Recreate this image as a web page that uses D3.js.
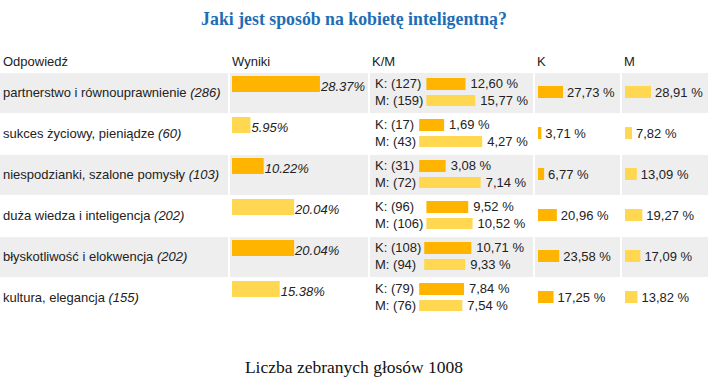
<!DOCTYPE html>
<html>
<head>
<meta charset="utf-8">
<script src="https://cdn.jsdelivr.net/npm/d3@7"></script>
<style>
  html, body { margin: 0; padding: 0; background: #fff; }
  svg { display: block; }
</style>
</head>
<body>
<svg id="chart" width="708" height="388"></svg>
<script>
// ---- data ----
const title = "Jaki jest sposób na kobietę inteligentną?";
const footer = "Liczba zebranych głosów 1008";
const headers = ["Odpowiedź", "Wyniki", "K/M", "K", "M"];
const answers = [
  "partnerstwo i równouprawnienie",
  "sukces życiowy, pieniądze",
  "niespodzianki, szalone pomysły",
  "duża wiedza i inteligencja",
  "błyskotliwość i elokwencja",
  "kultura, elegancja"
];
const counts = [286, 60, 103, 202, 202, 155];
const wyniki = ["28.37", "5.95", "10.22", "20.04", "20.04", "15.38"];
const kCounts = [127, 17, 31, 96, 108, 79];
const mCounts = [159, 43, 72, 106, 94, 76];
const kShareAll = ["12,60", "1,69", "3,08", "9,52", "10,71", "7,84"];
const mShareAll = ["15,77", "4,27", "7,14", "10,52", "9,33", "7,54"];
const kPct = ["27,73", "3,71", "6,77", "20,96", "23,58", "17,25"];
const mPct = ["28,91", "7,82", "13,09", "19,27", "17,09", "13,82"];

// ---- style ----
const ORANGE = "#FFB400";
const YELLOW = "#FFD750";
const GRAY = "#EEEEEE";
const TXT = "#222222";
const FONT = "'Liberation Sans', Arial, sans-serif";
const num = s => +String(s).replace(",", ".");

const svg = d3.select("#chart");

// columns [x0, x1]
const cols = [[0, 228], [230, 368], [370, 533], [535, 620], [622, 708]];

const y = d3.scaleBand().domain(d3.range(answers.length)).range([73, 73 + 41 * answers.length]);
const xWyn = d3.scaleLinear().domain([0, 100]).range([0, 310]);
const xShare = d3.scaleLinear().domain([0, 1]).range([0, 88]);
const xKM = d3.scaleLinear().domain([0, 100]).range([0, 90]);

// title
svg.append("text")
  .attr("x", 354).attr("y", 25)
  .attr("text-anchor", "middle")
  .style("font-family", "'Liberation Serif', 'Times New Roman', serif")
  .style("font-weight", "bold").style("font-size", "17.8px")
  .style("fill", "#1F6DB4")
  .text(title);

// headers
svg.selectAll("text.hdr").data(headers).enter().append("text")
  .attr("class", "hdr")
  .attr("x", (d, i) => cols[i][0] + (i === 0 ? 3 : 2))
  .attr("y", 66)
  .style("font-family", FONT).style("font-size", "13px").style("fill", TXT)
  .text(d => d);

const rows = svg.selectAll("g.row").data(answers).enter().append("g")
  .attr("class", "row")
  .attr("transform", (d, i) => `translate(0,${y(i)})`);

// backgrounds
rows.each(function (d, i) {
  if (i % 2 === 0) {
    d3.select(this).selectAll("rect.bg").data(cols).enter().append("rect")
      .attr("class", "bg")
      .attr("x", c => c[0]).attr("y", 0)
      .attr("width", c => c[1] - c[0]).attr("height", 40)
      .attr("fill", GRAY);
  }
});

const color = i => (i % 2 === 0 ? ORANGE : YELLOW);

// col 1: answer label
rows.each(function (d, i) {
  const t = d3.select(this).append("text")
    .attr("x", 3).attr("y", 24)
    .style("font-family", FONT).style("font-size", "13px").style("fill", TXT);
  t.append("tspan").text(d + " ");
  t.append("tspan").style("font-style", "italic").text(`(${counts[i]})`);
});

// col 2: Wyniki
rows.append("rect")
  .attr("x", 232).attr("y", 3)
  .attr("width", (d, i) => xWyn(num(wyniki[i]))).attr("height", 16)
  .attr("fill", (d, i) => color(i));
rows.append("text")
  .attr("x", (d, i) => 232 + xWyn(num(wyniki[i])) + 1).attr("y", 18)
  .style("font-family", FONT).style("font-size", "13px").style("font-style", "italic").style("fill", TXT)
  .text((d, i) => wyniki[i] + "%");

// col 3: K/M
rows.each(function (d, i) {
  const g = d3.select(this);
  const kT = g.append("text").attr("x", 375).attr("y", 15)
    .style("font-family", FONT).style("font-size", "13px").style("fill", TXT)
    .text(`K: (${kCounts[i]})`);
  const mT = g.append("text").attr("x", 375).attr("y", 32)
    .style("font-family", FONT).style("font-size", "13px").style("fill", TXT)
    .text(`M: (${mCounts[i]})`);
  const bx = 375 + Math.max(kT.node().getComputedTextLength(), mT.node().getComputedTextLength()) + 3;
  const tot = kCounts[i] + mCounts[i];
  const kw = xShare(kCounts[i] / tot), mw = xShare(mCounts[i] / tot);
  g.append("rect").attr("x", bx).attr("y", 5).attr("width", kw).attr("height", 12).attr("fill", ORANGE);
  g.append("rect").attr("x", bx).attr("y", 22).attr("width", mw).attr("height", 11).attr("fill", YELLOW);
  g.append("text").attr("x", bx + kw + 5).attr("y", 15)
    .style("font-family", FONT).style("font-size", "13px").style("fill", TXT)
    .text(kShareAll[i] + " %");
  g.append("text").attr("x", bx + mw + 5).attr("y", 32)
    .style("font-family", FONT).style("font-size", "13px").style("fill", TXT)
    .text(mShareAll[i] + " %");
});

// col 4: K
rows.append("rect")
  .attr("x", 538).attr("y", 13)
  .attr("width", (d, i) => xKM(num(kPct[i]))).attr("height", 12)
  .attr("fill", ORANGE);
rows.append("text")
  .attr("x", (d, i) => 538 + xKM(num(kPct[i])) + 4).attr("y", 24)
  .style("font-family", FONT).style("font-size", "13px").style("fill", TXT)
  .text((d, i) => kPct[i] + " %");

// col 5: M
rows.append("rect")
  .attr("x", 625).attr("y", 13)
  .attr("width", (d, i) => xKM(num(mPct[i]))).attr("height", 12)
  .attr("fill", YELLOW);
rows.append("text")
  .attr("x", (d, i) => 625 + xKM(num(mPct[i])) + 4).attr("y", 24)
  .style("font-family", FONT).style("font-size", "13px").style("fill", TXT)
  .text((d, i) => mPct[i] + " %");

// footer
svg.append("text")
  .attr("x", 354).attr("y", 373)
  .attr("text-anchor", "middle")
  .style("font-family", "'Liberation Serif', 'Times New Roman', serif")
  .style("font-size", "17.5px").style("fill", "#111")
  .text(footer);
</script>
</body>
</html>
